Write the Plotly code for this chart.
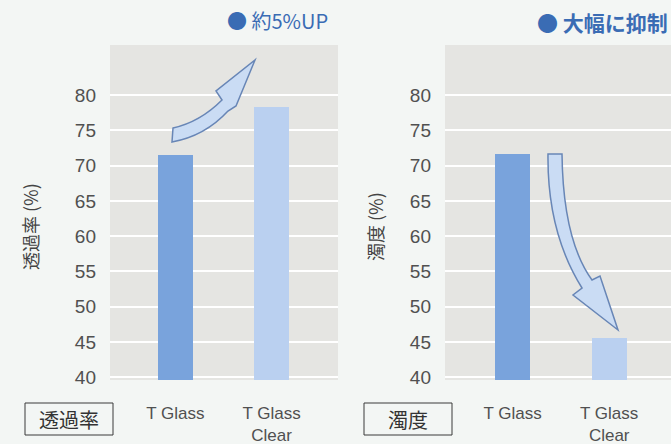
import plotly.graph_objects as go

# ---- data ----
categories = ["T Glass", "T Glass<br>Clear"]
transmittance = [71.5, 78.3]      # 透過率 (%)
haze = [71.7, 45.5]               # 濁度 (%)
y_ticks = [40, 45, 50, 55, 60, 65, 70, 75, 80]
left_title = "● 約5%UP"
right_title = "● 大幅に抑制"

W, H = 671, 444
BLUE = "#79a3dc"
LIGHT = "#bad0f0"
FONT = "Liberation Sans, Arial, sans-serif"
CJK = "Noto Sans CJK JP"

def px(x):
    return x / W

def py(y):
    return 1 - y / H

fig = go.Figure()
xs = [0, 1]
fig.add_trace(go.Bar(x=xs, y=transmittance, width=0.365,
                     marker=dict(color=[BLUE, LIGHT], line=dict(width=0)),
                     xaxis="x", yaxis="y", hoverinfo="y"))
fig.add_trace(go.Bar(x=xs, y=haze, width=0.365,
                     marker=dict(color=[BLUE, LIGHT], line=dict(width=0)),
                     xaxis="x2", yaxis="y2", hoverinfo="y"))

yax = dict(range=[39.6, 87.1], tickvals=y_ticks, showgrid=True,
           gridcolor="#ffffff", gridwidth=1.5, zeroline=False,
           showline=False, ticks="", ticklabelstandoff=13, automargin=False,
           tickfont=dict(family=FONT, size=19, color="#505050"))
xax = dict(tickvals=xs, ticktext=categories, showgrid=False, zeroline=False,
           showline=False, ticks="", ticklabelstandoff=21, automargin=False,
           tickfont=dict(family=FONT, size=17, color="#505050"))

fig.update_layout(
    width=W, height=H,
    margin=dict(l=0, r=0, t=0, b=0, pad=0, autoexpand=False),
    paper_bgcolor="#f3f6f4",
    plot_bgcolor="#e5e5e2",
    showlegend=False,
    bargap=0,
    xaxis=dict(xax, domain=[px(110), px(338)], range=[-0.68, 1.69], anchor="y"),
    yaxis=dict(yax, domain=[py(380), py(45)], anchor="x"),
    xaxis2=dict(xax, domain=[px(445), 1.0], range=[-0.70, 1.64], anchor="y2"),
    yaxis2=dict(yax, domain=[py(380), py(45)], anchor="x2"),
)

shapes = []

def arrow_path(pts_cmds):
    s = ""
    for c in pts_cmds:
        if isinstance(c, str):
            s += c + " "
        else:
            s += f"{px(c[0]):.5f},{py(c[1]):.5f} "
    return s.strip()

left_arrow = arrow_path([
    "M", (173, 128),
    "Q", (200, 122), (222, 100),
    "L", (216, 91),
    "L", (255, 60),
    "L", (236, 106),
    "L", (228, 111),
    "Q", (205, 136), (172, 142),
    "Z",
])
right_arrow = arrow_path([
    "M", (548, 154),
    "L", (562, 154),
    "Q", (563, 240), (592, 280),
    "L", (600, 276),
    "L", (618, 330),
    "L", (573, 295),
    "L", (582, 288),
    "Q", (547, 232), (548, 154),
    "Z",
])
for p in (left_arrow, right_arrow):
    shapes.append(dict(type="path", path=p, xref="paper", yref="paper",
                       fillcolor="#cadcf4", line=dict(color="#6886b6", width=1.5),
                       layer="above"))

# label boxes
for x0, x1 in ((25, 113), (364, 452)):
    shapes.append(dict(type="rect", xref="paper", yref="paper",
                       x0=px(x0), x1=px(x1), y0=py(435), y1=py(403),
                       line=dict(color="#3a3a3a", width=1), fillcolor="rgba(0,0,0,0)"))
fig.update_layout(shapes=shapes)

def note(text, x, y, size, color, xanchor="center", angle=0, weight="normal"):
    return dict(text=text, x=px(x), y=py(y), xref="paper", yref="paper",
                xanchor=xanchor, yanchor="middle", textangle=angle, showarrow=False,
                font=dict(family=CJK, size=size, color=color, weight=weight))

ann = [
    note("透過率", 69, 419, 20, "#333333"),
    note("濁度", 408, 419, 20, "#333333"),
    note("透過率 (%)", 30, 227, 18, "#444444", angle=-90),
    note("濁度 (%)", 375, 227, 18, "#444444", angle=-90),
    note(left_title, 330, 21, 20, "#3a6cb4", xanchor="right"),
    note(right_title, 670, 22, 21, "#3a6cb4", xanchor="right", weight="bold"),
]
fig.update_layout(annotations=ann)

fig.write_html("out.html", config={"displayModeBar": False},
               post_script="document.body.style.margin='0';document.body.style.overflow='hidden';")
